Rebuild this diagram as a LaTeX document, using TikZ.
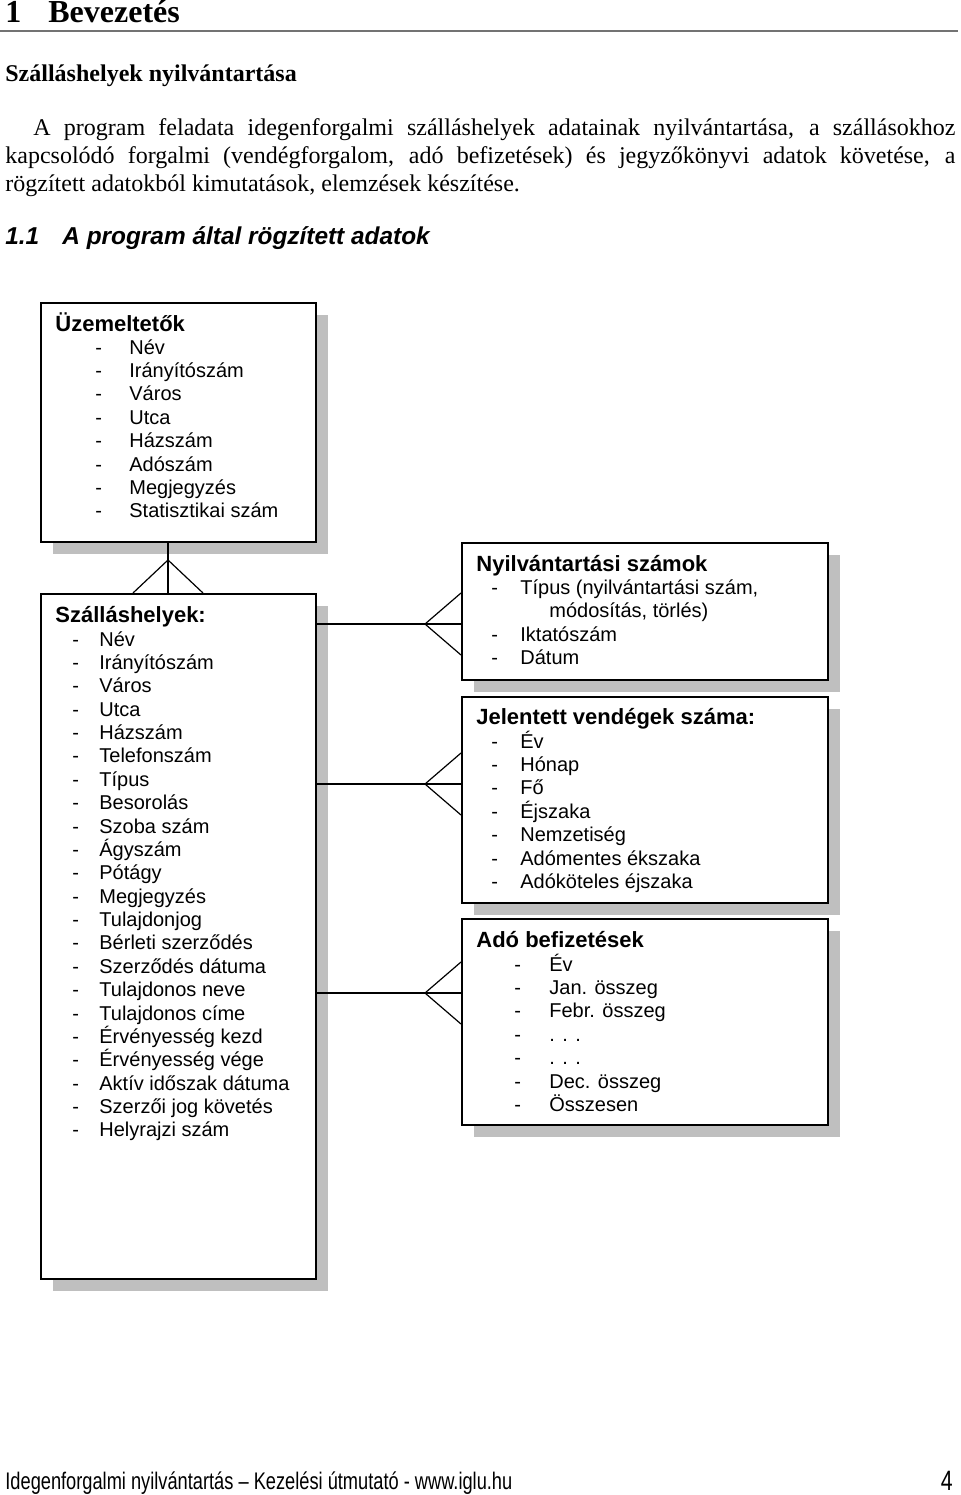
\documentclass[tikz,border=0pt]{standalone}
\usepackage{fontspec}
\setmainfont{Liberation Serif}
\newfontfamily\arial{Liberation Sans}
\newfontfamily\arialnarrow[FakeStretch=0.76]{Liberation Sans}
\usepackage{tikz}
\usetikzlibrary{positioning,calc,shadows}

\tikzset{
  entity/.style={draw, line width=0.8pt, fill=white, anchor=north west, inner sep=0pt,
    minimum width=137.5pt,
    drop shadow={shadow xshift=6pt, shadow yshift=-6pt, fill=black!25, opacity=1}},
  txt/.style={anchor=base west, inner sep=0pt},
  title/.style={txt, font=\arial\fontsize{11}{13}\selectfont\bfseries},
  item/.style={txt, font=\arial\fontsize{10}{12}\selectfont},
  crow/.style={line width=0.6pt},
}

\begin{document}
\begin{tikzpicture}[x=0.5pt, y=-0.5pt]
    \useasboundingbox (0,0) rectangle (960,1495);
    % page text
    \node [txt, font=\fontsize{16}{19}\selectfont\bfseries] (chnum) at (5,22) {1};
    \node [txt, font=\fontsize{16}{19}\selectfont\bfseries] (chtitle) at (48,22) {Bevezetés};
    \draw [line width=1pt, black!55] (0,31) -- (958,31);
    \node [txt, font=\fontsize{12}{14}\selectfont\bfseries] (sec) at (5,81) {Szálláshelyek nyilvántartása};
    \node [txt, font=\fontsize{12}{14}\selectfont] (par1) at (33,135)
      {\makebox[461pt][s]{A program feladata idegenforgalmi szálláshelyek adatainak nyilvántartása, a szállásokhoz}};
    \node [txt, font=\fontsize{12}{14}\selectfont] (par2) at (5,163)
      {\makebox[475pt][s]{kapcsolódó forgalmi (vendégforgalom, adó befizetések) és jegyzőkönyvi adatok követése, a}};
    \node [txt, font=\fontsize{12}{14}\selectfont] (par3) at (5,191) {rögzített adatokból kimutatások, elemzések készítése.};
    \node [txt, font=\arial\fontsize{12.2}{15}\selectfont\bfseries\itshape] (subnum) at (5,244) {1.1};
    \node [txt, font=\arial\fontsize{12.2}{15}\selectfont\bfseries\itshape] (subtitle) at (62,244) {A program által rögzített adatok};

    % entities
    \node [entity, minimum height=119.5pt] (uz) at (40,302) {};
    \node [entity, minimum height=342.5pt] (szall) at (40,593) {};
    \node [entity, minimum width=183pt, minimum height=68.5pt] (nyilv) at (461,542) {};
    \node [entity, minimum width=183pt, minimum height=103pt] (vendeg) at (461,696) {};
    \node [entity, minimum width=183pt, minimum height=103pt] (ado) at (461,918) {};

    \node [title] (uz-title) at (55,331) {Üzemeltetők};
    \foreach \t [count=\i from 0] in {Név, Irányítószám, Város, Utca, Házszám, Adószám, Megjegyzés, Statisztikai szám} {
      \node [item] (uz-d\i) at (95,{354+23.4*\i}) {-};
      \node [item] (uz-t\i) at (129,{354+23.4*\i}) {\t};
    }

    \node [title] (szall-title) at (55,622) {Szálláshelyek:};
    \foreach \t [count=\i from 0] in {Név, Irányítószám, Város, Utca, Házszám, Telefonszám, Típus, Besorolás,
      Szoba szám, Ágyszám, Pótágy, Megjegyzés, Tulajdonjog, Bérleti szerződés, Szerződés dátuma,
      Tulajdonos neve, Tulajdonos címe, Érvényesség kezd, Érvényesség vége, Aktív időszak dátuma,
      Szerzői jog követés, Helyrajzi szám} {
      \node [item] (szall-d\i) at (72,{646+23.38*\i}) {-};
      \node [item] (szall-t\i) at (99,{646+23.38*\i}) {\t};
    }

    \node [title] (nyilv-title) at (476,571) {Nyilvántartási számok};
    \node [item] (nyilv-d0) at (491,594) {-};
    \node [item] (nyilv-t0) at (520,594) {Típus (nyilvántartási szám,};
    \node [item] (nyilv-t0b) at (549,617) {módosítás, törlés)};
    \node [item] (nyilv-d1) at (491,641) {-};
    \node [item] (nyilv-t1) at (520,641) {Iktatószám};
    \node [item] (nyilv-d2) at (491,664) {-};
    \node [item] (nyilv-t2) at (520,664) {Dátum};

    \node [title] (vendeg-title) at (476,724) {Jelentett vendégek száma:};
    \foreach \t [count=\i from 0] in {Év, Hónap, Fő, Éjszaka, Nemzetiség, Adómentes ékszaka, Adóköteles éjszaka} {
      \node [item] (vendeg-d\i) at (491,{748+23.4*\i}) {-};
      \node [item] (vendeg-t\i) at (520,{748+23.4*\i}) {\t};
    }

    \node [title] (ado-title) at (476,947) {Adó befizetések};
    \foreach \t [count=\i from 0] in {Év, Jan. összeg, Febr. összeg, . . ., . . ., Dec. összeg, Összesen} {
      \node [item] (ado-d\i) at (514,{971+23.4*\i}) {-};
      \node [item] (ado-t\i) at (549,{971+23.4*\i}) {\t};
    }

    % relations
    \coordinate (uz-out) at ($(uz.south west)+(128,0)$);
    \coordinate (szall-in) at ($(szall.north west)+(128,0)$);
    \draw [crow] (uz-out) -- (szall-in);
    \draw [crow] ($(szall-in)+(-35,0)$) -- ($(szall-in)+(0,-33)$) -- ($(szall-in)+(35,0)$);
    \foreach \b/\d in {nyilv/82, vendeg/88, ado/75} {
      \coordinate (\b-in) at ($(\b.north west)+(0,\d)$);
      \draw [crow] (szall.east |- \b-in) -- (\b-in);
      \draw [crow] ($(\b-in)+(0,-31)$) -- ($(\b-in)+(-36,0)$) -- ($(\b-in)+(0,31)$);
    }

    % footer
    \node [txt, font=\arialnarrow\fontsize{12}{14}\selectfont] (foot) at (5,1489)
      {Idegenforgalmi nyilvántartás – Kezelési útmutató - www.iglu.hu};
    \node [anchor=base east, inner sep=0pt, font=\arialnarrow\fontsize{14}{16}\selectfont] (pagenum) at (953,1490) {4};
\end{tikzpicture}
\end{document}
